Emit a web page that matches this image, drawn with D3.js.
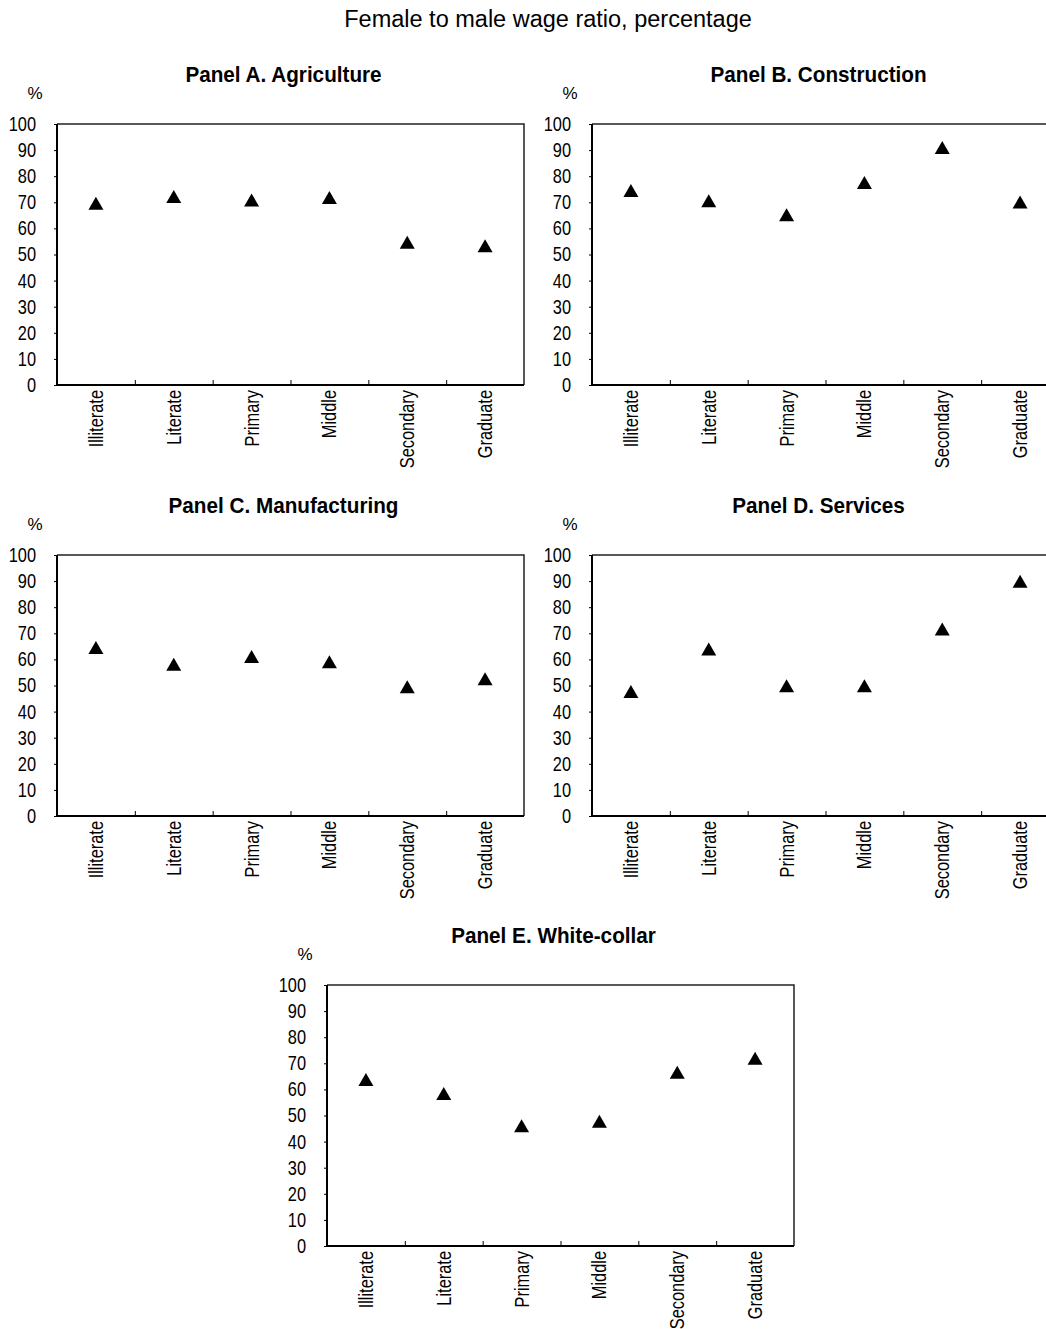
<!DOCTYPE html>
<html>
<head>
<meta charset="utf-8">
<script src="https://cdn.jsdelivr.net/npm/d3@7"></script>
<style>
  html, body { margin: 0; padding: 0; background: #fff; }
  svg { display: block; font-family: "Liberation Sans", Arial, sans-serif; }
</style>
</head>
<body>
<div id="chart"></div>
<script>
// ===== Data =====
const categories = ["Illiterate", "Literate", "Primary", "Middle", "Secondary", "Graduate"];
const yTicks = [0, 10, 20, 30, 40, 50, 60, 70, 80, 90, 100];

const agriculture   = [69.6, 72.2, 70.9, 71.8, 54.7, 53.4];
const construction  = [74.5, 70.6, 65.2, 77.6, 91.0, 70.1];
const manufacturing = [64.6, 58.1, 61.1, 59.1, 49.5, 52.6];
const services      = [47.7, 64.0, 49.9, 49.9, 71.6, 89.9];
const whiteCollar   = [63.8, 58.4, 46.1, 47.8, 66.6, 71.9];

const panelTitles = [
  "Panel A. Agriculture",
  "Panel B. Construction",
  "Panel C. Manufacturing",
  "Panel D. Services",
  "Panel E. White-collar"
];
const mainTitle = "Female to male wage ratio, percentage";

// ===== Layout =====
const W = 1046, H = 1329;
const PW = 467, PH = 261;
const NARROW = 0.82; // fake "Arial Narrow" by squeezing Liberation Sans
const panels = [
  { title: panelTitles[0], values: agriculture,   left: 57,  top: 124 },
  { title: panelTitles[1], values: construction,  left: 592, top: 124 },
  { title: panelTitles[2], values: manufacturing, left: 57,  top: 555 },
  { title: panelTitles[3], values: services,      left: 592, top: 555 },
  { title: panelTitles[4], values: whiteCollar,   left: 327, top: 985 },
];

// triangle centred on its bounding box (like a spreadsheet marker)
const markerTriangle = {
  draw(ctx) {
    const w = 15, h = 13;
    ctx.moveTo(0, -h / 2);
    ctx.lineTo(w / 2, h / 2);
    ctx.lineTo(-w / 2, h / 2);
    ctx.closePath();
  }
};

const svg = d3.select("#chart").append("svg")
  .attr("width", W).attr("height", H)
  .attr("viewBox", `0 0 ${W} ${H}`);

svg.append("rect").attr("width", W).attr("height", H).attr("fill", "#fff");

svg.append("text")
  .attr("x", 548).attr("y", 27)
  .attr("text-anchor", "middle")
  .style("font-size", "23.5px")
  .style("fill", "#000")
  .text(mainTitle);

function drawPanel(p) {
  const g = svg.append("g")
    .attr("transform", `translate(${p.left},${p.top})`);

  const x = d3.scaleBand().domain(categories).range([0, PW]).padding(0);
  const xb = d3.scaleLinear().domain([0, categories.length]).range([0, PW]);
  const y = d3.scaleLinear().domain([0, 100]).range([PH, 0]);

  // title and unit
  g.append("text")
    .attr("transform", `translate(${PW / 2 - 7},-42) scale(0.92,1)`)
    .attr("text-anchor", "middle")
    .style("font-size", "22.5px")
    .style("font-weight", "bold")
    .text(p.title);

  g.append("text")
    .attr("x", -22).attr("y", -25)
    .attr("text-anchor", "middle")
    .style("font-size", "17px")
    .text("%");

  // frame (top / right)
  g.append("path")
    .attr("d", `M0,${y(100)}H${xb(categories.length)}V${y(0)}`)
    .attr("fill", "none")
    .attr("stroke", "#222")
    .attr("stroke-width", 1.5);

  // y axis
  const ya = g.append("g")
    .call(d3.axisLeft(y).tickValues(yTicks).tickSize(3).tickPadding(18));
  ya.select(".domain").attr("stroke-width", 2).attr("d", `M0,${y(0)}V${y(100)}`);
  ya.selectAll("text")
    .attr("x", -21 / NARROW)
    .attr("transform", `scale(${NARROW},1)`)
    .style("font-size", "20px")
    .style("fill", "#000");

  // x axis: tick marks at band boundaries (inward)
  const xt = g.append("g")
    .attr("transform", `translate(0,${PH})`)
    .call(d3.axisBottom(xb).tickValues(d3.range(1, categories.length)).tickSize(-5).tickFormat(""));
  xt.select(".domain").attr("stroke-width", 2).attr("d", `M0,0H${PW}`);

  // x labels at band centres, rotated
  const xl = g.append("g")
    .attr("transform", `translate(0,${PH})`)
    .call(d3.axisBottom(x).tickSize(0).tickPadding(0));
  xl.select(".domain").remove();
  xl.selectAll("text")
    .attr("transform", `rotate(-90) scale(${NARROW},1)`)
    .attr("x", -5 / NARROW).attr("y", 0).attr("dy", "0.35em")
    .style("text-anchor", "end")
    .style("font-size", "20px")
    .style("fill", "#000");

  // markers
  g.selectAll(".pt")
    .data(p.values)
    .enter()
    .append("path")
    .attr("class", "pt")
    .attr("d", d3.symbol().type(markerTriangle))
    .attr("transform", (v, i) => `translate(${x(categories[i]) + x.bandwidth() / 2},${y(v)})`)
    .attr("fill", "#000");
}

panels.forEach(drawPanel);
</script>
</body>
</html>
